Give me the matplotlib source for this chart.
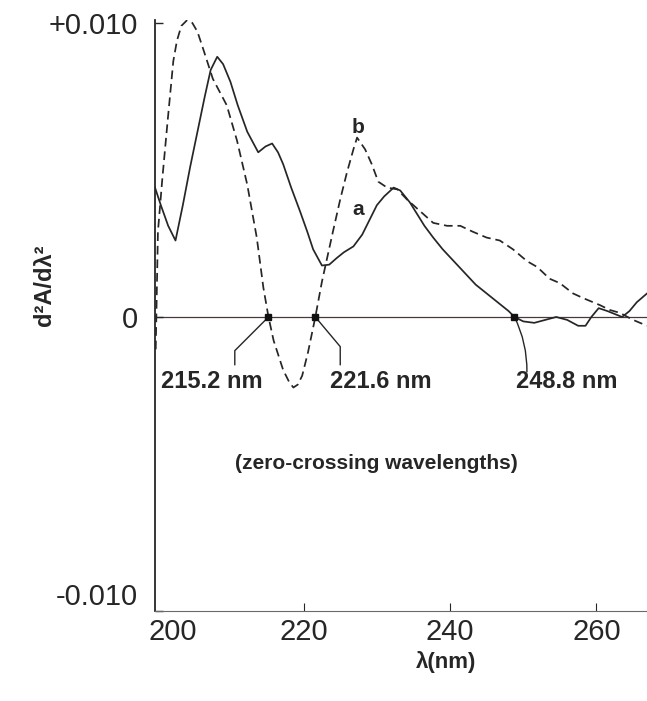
import matplotlib
matplotlib.use('Agg')
import matplotlib.pyplot as plt
import matplotlib.transforms as mtransforms

# ---- data ----
wl_a = [199.7, 200.5, 201.5, 202.5, 203.5, 204.5, 205.5, 206.5, 207.3, 208.2,
        209.0, 210.0, 211.0, 212.3, 213.8, 214.8, 215.7, 216.5, 217.2, 218.3,
        219.5, 220.5, 221.3, 222.5, 223.5, 224.5, 225.5, 226.8, 228.0, 229.0,
        230.0, 231.0, 232.3, 233.2, 234.5, 235.5, 236.5, 237.7, 239.0, 240.5,
        242.0, 243.5, 245.0, 246.5, 248.0, 248.8, 250.0, 251.5, 253.0, 254.5,
        256.0, 257.5, 258.5, 259.3, 260.3, 261.5, 262.5, 263.5, 264.5, 265.5,
        266.9]
val_a = [0.0044, 0.0038, 0.0031, 0.0026, 0.0038, 0.0051, 0.0063, 0.0075, 0.0084, 0.00885,
         0.0086, 0.0080, 0.0072, 0.0063, 0.0056, 0.0058, 0.0059, 0.0056, 0.0052, 0.0044,
         0.0036, 0.0029, 0.0023, 0.00175, 0.00178, 0.0020, 0.0022, 0.0024, 0.0028, 0.0033,
         0.0038, 0.0041, 0.0044, 0.0043, 0.0039, 0.0035, 0.0031, 0.0027, 0.0023, 0.0019,
         0.0015, 0.0011, 0.0008, 0.0005, 0.0002, 0.0, -0.00015, -0.0002, -0.0001, 0.0,
         -0.0001, -0.0003, -0.0003, 0.0, 0.0003, 0.0002, 0.0001, 0.0, 0.0002, 0.0005,
         0.0008]

wl_b = [199.8, 200.1, 200.7, 201.4, 202.2, 202.7, 203.3, 204.1, 204.8, 205.5,
        206.3, 207.6, 209.5, 210.9, 212.3, 213.6, 214.5, 215.2, 215.9, 217.2,
        218.0, 218.6, 219.2, 219.8, 220.6, 221.6, 222.5, 224.0, 225.0, 225.9,
        226.8, 227.3, 228.4, 229.3, 230.2, 231.4, 232.8, 234.1, 235.9, 237.7,
        239.6, 241.4, 243.1, 245.0, 246.8, 248.6, 250.5, 251.9, 253.6, 255.0,
        256.8, 258.2, 260.5, 261.8, 263.2, 265.0, 266.9]
val_b = [-0.0011, 0.0029, 0.0047, 0.0066, 0.0087, 0.0094, 0.0099, 0.0101, 0.0100, 0.0097,
         0.0091, 0.0081, 0.0072, 0.0060, 0.0045, 0.0027, 0.0010, 0.0, -0.0008, -0.0018,
         -0.0022, -0.0024, -0.0023, -0.0020, -0.0012, 0.0, 0.0012, 0.0029, 0.0040, 0.0049,
         0.0057, 0.0061, 0.0057, 0.0052, 0.0046, 0.0044, 0.00434, 0.0040, 0.0036, 0.0032,
         0.0031, 0.0031, 0.0029, 0.0027, 0.0026, 0.0023, 0.0019, 0.0017, 0.0013, 0.00115,
         0.0008, 0.00064, 0.0004, 0.00024, 0.00014, -0.0001, -0.0003]

zero_cross = [215.2, 221.6, 248.8]
zero_labels = ['215.2 nm', '221.6 nm', '248.8 nm']
label_pos = [(207.5, -0.00221), (230.6, -0.00221), (256.0, -0.00221)]
leader_end = [(210.6, -0.00163), (225.0, -0.00163), (250.5, -0.00187)]
leader_style = ['angle,angleA=90,angleB=45,rad=0',
                'angle,angleA=90,angleB=-50,rad=0',
                'arc3,rad=0.12']

xticks = [200, 220, 240, 260]
xticklabels = ['200', '220', '240', '260']
yticks = [-0.010, 0.0, 0.010]
yticklabels = ['-0.010', '0', '+0.010']

ink = '#262626'
plt.rcParams['font.family'] = ['Liberation Sans', 'DejaVu Sans']

fig = plt.figure(figsize=(6.47, 7.01), dpi=100)
ax = fig.add_axes([155/647, 1-611/701, (647-155)/647, (611-20)/701])
ax.set_xlim(199.7, 266.9)
ax.set_ylim(-0.0100, 0.0101)

for s in ['top', 'right']:
    ax.spines[s].set_visible(False)
ax.spines['left'].set_linewidth(1.3)
ax.spines['left'].set_color(ink)
ax.spines['bottom'].set_linewidth(0.8)
ax.spines['bottom'].set_color('#6a6a6a')

ax.axhline(0, color='#4a3838', lw=0.9, zorder=1)

ax.plot(wl_a, val_a, color=ink, lw=1.25, zorder=3)
ax.plot(wl_b, val_b, color=ink, lw=1.25, ls=(0, (5, 2.8)), zorder=3)
ax.plot(zero_cross, [0]*len(zero_cross), 's', ms=4.5, color='#111111', zorder=4)

for zc, lab, lp, le, cs in zip(zero_cross, zero_labels, label_pos, leader_end, leader_style):
    ax.annotate('', xy=(zc, 0), xytext=le,
                arrowprops=dict(arrowstyle='-', color=ink, lw=1.0,
                                connectionstyle=cs, shrinkA=0, shrinkB=0))
    ax.text(lp[0], lp[1], lab, ha='center', va='center', fontsize=17,
            fontweight='bold', color=ink)

ax.text(210.65, -0.00497, '(zero-crossing wavelengths)', ha='left', va='center',
        fontsize=15, fontweight='bold', color=ink)
ax.text(227.4, 0.00364, 'a', ha='center', va='center', fontsize=15,
        fontweight='bold', color=ink)
ax.text(227.4, 0.00646, 'b', ha='center', va='center', fontsize=15,
        fontweight='bold', color=ink)

ax.set_xticks(xticks)
ax.set_xticklabels(xticklabels)
ax.set_yticks(yticks)
ax.set_yticklabels(yticklabels)
ax.tick_params(axis='x', direction='in', length=6, width=0.8, pad=5,
               labelsize=21, colors=ink)
ax.tick_params(axis='y', direction='in', length=6, width=1.0, pad=12,
               labelsize=21, colors=ink)
ax.xaxis.get_major_ticks()[0].tick1line.set_visible(False)

xl = ax.get_xticklabels()
xl[0].set_transform(xl[0].get_transform() +
                    mtransforms.ScaledTranslation(16/100, 0, fig.dpi_scale_trans))
yl = ax.get_yticklabels()
yl[0].set_va('bottom')

fig.text(44/647, 1-285/701, 'd²A/dλ²', rotation=90, ha='center', va='center',
         fontsize=17, fontweight='bold', color=ink)
fig.text(446/647, 1-662/701, 'λ(nm)', ha='center', va='center',
         fontsize=16, fontweight='bold', color=ink)

fig.savefig('out.png', dpi=100, facecolor='white')
